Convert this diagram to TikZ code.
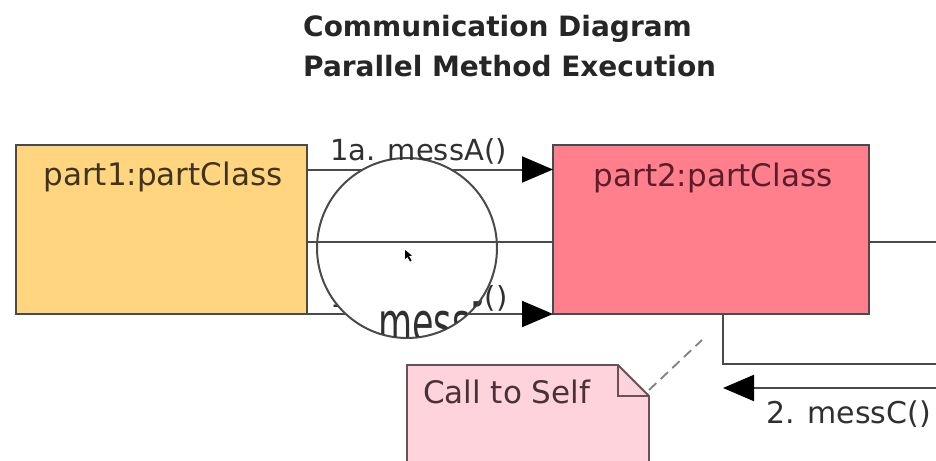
\documentclass[tikz,border=0pt]{standalone}
\usepackage{fontspec}
\usepackage{graphicx}
\setmainfont{DejaVu Sans}
\usetikzlibrary{arrows.meta}

\definecolor{partA}{HTML}{FFD580}
\definecolor{partB}{HTML}{FF7F8C}
\definecolor{notefill}{HTML}{FFD3DB}
\definecolor{edge}{HTML}{4A4A4A}
\definecolor{ink}{HTML}{303030}
\definecolor{inkA}{HTML}{3E3420}
\definecolor{inkB}{HTML}{5A1E2A}
\definecolor{noteedge}{HTML}{6A5058}
\definecolor{noteink}{HTML}{4A3038}

\begin{document}
\begin{tikzpicture}[x=1pt,y=-1pt,
  partbox/.style={draw=edge, line width=2pt, inner sep=0pt, outer sep=0pt},
  txt/.style={font=\fontsize{#1}{#1}\selectfont, inner sep=0pt},
  txt/.default=29,
  lbl/.style={txt=#1, text=ink, anchor=base west},
  lbl/.default=29,
  ttl/.style={font=\bfseries\fontsize{28}{32}\selectfont, text=black!85, inner sep=0pt, anchor=base west},
  conn/.style={draw=edge, line width=2pt},
  msg/.style={conn, -{Triangle[length=31pt,width=26pt,color=black,fill=black]}},
  notelink/.style={draw=gray, line width=1.8pt, dash pattern=on 10pt off 6pt}
]
\useasboundingbox (0,0) rectangle (936,460);
\fill[white] (0,0) rectangle (936,460);

% heading
\node[ttl] (t1) at (303,37) {Communication Diagram};
\node[ttl] (t2) at (303,77) {Parallel Method Execution};

% the two parts
\node[partbox, fill=partA, minimum width=291pt, minimum height=169pt] (p1) at (161.5,229.5) {};
\node[partbox, fill=partB, minimum width=316pt, minimum height=169pt] (p2) at (711,229.5) {};
\node[txt=31, text=inkA, anchor=base] (p1t) at (163,185) {part1:partClass};
\node[txt=31, text=inkB, anchor=base] (p2t) at (713,186) {part2:partClass};

% parallel messages
\draw[msg] ([yshift=-24.5pt]p1.north east) -- ([yshift=-24.5pt]p2.north west);
\draw[msg] (p1.south east) -- (p2.south west);
\node[lbl] (m2) at (330,307) {1b. messB()};

% self call leaving part2 and coming back
\coordinate (outA) at (936,364);
\coordinate (inB) at (936,388);
\coordinate (tipB) at (723,388);
\coordinate (edgeR) at (936,242);
\draw[conn] ([xshift=12pt]p2.south) |- (outA);
\draw[msg] (inB) -- (tipB);
\draw[conn] ([yshift=-12.5pt]p2.east) -- (edgeR);
\node[lbl=30] (m3) at (766,423) {2. messC()};

% note
\draw[draw=noteedge, fill=notefill, line width=1.8pt]
  (407,470) -- (407,365) -- (618,365) -- (649,396) -- (649,470);
\draw[draw=noteedge, line width=1.8pt] (618,365) -- (618,396) -- (649,396);
\node[txt=31, text=noteink, anchor=base west] (nt) at (423,403) {Call to Self};
\coordinate (noteC) at (649,390);
\coordinate (noteEnd) at (702,340);
\draw[notelink] (noteC) -- (noteEnd);

% magnifier lens over the connectors
\node[circle, draw=edge, fill=white, line width=2pt, minimum size=180pt, inner sep=0pt] (lens) at (407,248) {};
\begin{scope}
  \clip (407,248) circle (89pt);
  \node[anchor=base west, inner sep=0pt, text=ink] (big) at (378,342)
    {\scalebox{1}[1.6]{\fontsize{35}{36}\selectfont messB()}};
\end{scope}
\draw[conn] ([yshift=-12.5pt]p1.east) -- ([yshift=-12.5pt]p2.west);
\node[lbl] (m1) at (330,160) {1a. messA()};

% pointer
\fill[black] (405,250) -- (405,259) -- (407.5,257) -- (410,261.5) -- (411.5,260.5) -- (409,256) -- (412,255.5) -- cycle;
\end{tikzpicture}
\end{document}
